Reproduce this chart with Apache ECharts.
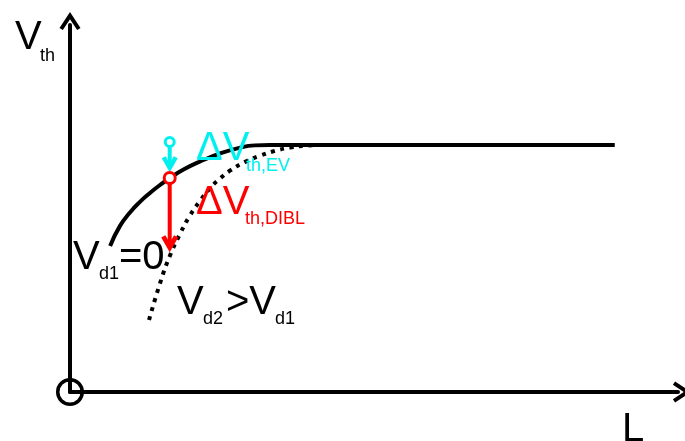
<!DOCTYPE html>
<html>
<head>
<meta charset="utf-8">
<script src="https://cdn.jsdelivr.net/npm/echarts@6/dist/echarts.min.js"></script>
<style>
  html, body { margin: 0; padding: 0; background: #fff; }
  #chart { width: 685px; height: 441px; }
</style>
</head>
<body>
<div id="chart"></div>
<script>
// Threshold voltage vs. channel length, schematic (arbitrary units)
const lenVd1 = [0.66, 0.82, 0.99, 1.15, 1.32, 1.48, 1.64, 1.89, 2.14, 2.47, 2.80, 3.04, 3.29, 8.96];
const vthVd1 = [3.98, 4.52, 4.90, 5.18, 5.43, 5.64, 5.83, 6.08, 6.28, 6.50, 6.66, 6.72, 6.73, 6.73];

const lenVd2 = [1.30, 1.48, 1.64, 1.81, 1.97, 2.14, 2.30, 2.47, 2.63, 2.88, 3.13, 3.37, 3.62, 3.87, 4.11];
const vthVd2 = [1.96, 2.96, 3.70, 4.31, 4.80, 5.21, 5.55, 5.82, 6.03, 6.27, 6.44, 6.57, 6.66, 6.71, 6.73];

// Reference device on the Vd1 = 0 curve and the two shifts drawn from it
const refLen = 1.64;
const refVth = 5.83;
const evStartVth = 6.81;   // pin of the ΔVth,EV arrow
const evTipVth = 5.99;     // tip of the ΔVth,EV arrow
const diblTipVth = 3.81;   // tip of the ΔVth,DIBL arrow

const axisMaxL = 10;
const axisMaxV = 10;

// Text
const yName = ['V', 'th'];
const xName = 'L';
const evLabel = ['ΔV', 'th,EV'];
const diblLabel = ['ΔV', 'th,DIBL'];
const vd1Label = ['V', 'd1', '=0'];
const vd2Label = ['V', 'd2', '>V', 'd1'];

const FONT = "'Liberation Sans', Arial, Helvetica, sans-serif";
const BLACK = '#000000';
const RED = '#ff0000';
const CYAN = '#00f0f0';

// open chevrons, drawn as filled outlines
const chevronUp = 'path://M10.5,0 L21,16 L17.66,18.2 L10.5,7.3 L3.34,18.2 L0,16 Z';
const chevronDown = 'path://M8,16.23 L16,2.23 L12.09,0 L8,7.16 L3.91,0 L0,2.23 Z';

const zip = (xs, ys) => xs.map((x, i) => [x, ys[i]]);

function txt(str, left, mid, size, color) {
  return {
    type: 'text',
    z: 100,
    style: {
      text: str, x: left, y: mid,
      font: size + 'px ' + FONT,
      fill: color,
      align: 'left',
      verticalAlign: 'middle'
    }
  };
}

// shaft of a vertical annotation arrow; stops a few px short of the tip
function shaft(len, v0, v1, color, width) {
  return {
    type: 'line',
    z: 5,
    silent: true,
    showSymbol: false,
    symbol: 'none',
    clip: false,
    lineStyle: { color: color, width: width, cap: 'butt' },
    data: [[len, v0], [len, v1]]
  };
}

// chevron head, tip placed exactly on the data point
function head(len, v, color, size) {
  return {
    type: 'scatter',
    z: 6,
    silent: true,
    clip: false,
    symbol: chevronDown,
    symbolSize: size,
    symbolOffset: [0, -size[1] / 2],
    itemStyle: { color: color, opacity: 1, borderWidth: 0 },
    data: [[len, v]]
  };
}

function ring(len, v, color, size, border, fill) {
  return {
    type: 'scatter',
    z: 8,
    silent: true,
    clip: false,
    symbol: 'circle',
    symbolSize: size,
    itemStyle: { color: fill, borderColor: color, borderWidth: border, opacity: 1 },
    data: [[len, v]]
  };
}

const chart = echarts.init(document.getElementById('chart'), null, { renderer: 'canvas' });

const axisCommon = {
  type: 'value',
  min: 0,
  splitLine: { show: false },
  axisTick: { show: false },
  axisLabel: { show: false },
  axisLine: {
    show: true,
    onZero: false,
    lineStyle: { color: BLACK, width: 4 },
    symbol: ['none', chevronUp],
    symbolSize: [21, 18.2],
    symbolOffset: [0, 4]
  }
};

// shaft ends sit 5 px above the tips (36.7 px per unit on V)
const shaftGap = 5 / 36.7;

chart.setOption({
  animation: false,
  backgroundColor: '#ffffff',
  grid: { left: 70, right: 7, top: 25, bottom: 49 },
  xAxis: Object.assign({}, axisCommon, { max: axisMaxL }),
  yAxis: Object.assign({}, axisCommon, { max: axisMaxV }),
  series: [
    {
      name: 'Vd2 > Vd1',
      type: 'line',
      z: 2,
      smooth: 0.5,
      showSymbol: false,
      clip: false,
      lineStyle: { color: BLACK, width: 4, type: [4, 5.5], cap: 'butt' },
      data: zip(lenVd2, vthVd2)
    },
    {
      name: 'Vd1 = 0',
      type: 'line',
      z: 3,
      smooth: 0.5,
      showSymbol: false,
      clip: false,
      lineStyle: { color: BLACK, width: 4, cap: 'butt' },
      data: zip(lenVd1, vthVd1)
    },
    shaft(refLen, refVth, diblTipVth + shaftGap, RED, 4),
    head(refLen, diblTipVth, RED, [17, 17]),
    shaft(refLen, evStartVth, evTipVth + shaftGap, CYAN, 4),
    head(refLen, evTipVth, CYAN, [16, 16]),
    ring(refLen, refVth, RED, 11, 3, '#ffffff'),
    ring(refLen, evStartVth, CYAN, 9, 3, '#ffffff'),
    ring(0, 0, BLACK, 24.5, 3.5, 'rgba(0,0,0,0)')
  ],
  graphic: [
    txt(yName[0], 15, 38, 40, BLACK),
    txt(yName[1], 40, 55.7, 18, BLACK),
    txt(xName, 622, 430, 40, BLACK),
    txt(evLabel[0], 196, 149, 40, CYAN),
    txt(evLabel[1], 246, 165.7, 18, CYAN),
    txt(diblLabel[0], 196, 203, 40, RED),
    txt(diblLabel[1], 245, 218.7, 18, RED),
    txt(vd1Label[0], 73, 258, 40, BLACK),
    txt(vd1Label[1], 99, 273.7, 18, BLACK),
    txt(vd1Label[2], 119, 258, 40, BLACK),
    txt(vd2Label[0], 177, 303, 40, BLACK),
    txt(vd2Label[1], 203, 318.7, 18, BLACK),
    txt(vd2Label[2], 226, 303, 40, BLACK),
    txt(vd2Label[3], 275, 318.7, 18, BLACK)
  ]
});
</script>
</body>
</html>
